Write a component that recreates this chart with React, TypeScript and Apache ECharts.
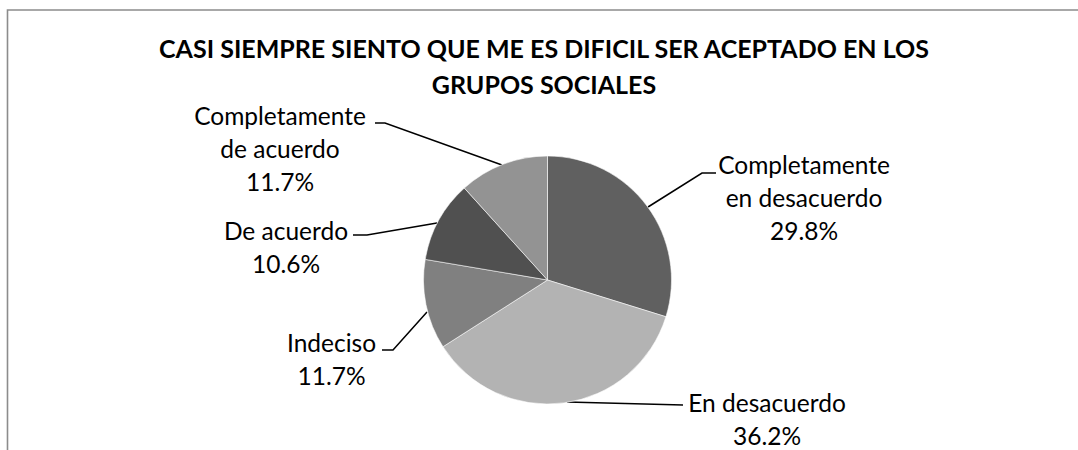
import React, { useEffect, useRef } from "react";
import * as echarts from "echarts";

const titleLines = ["CASI SIEMPRE SIENTO QUE ME ES DIFICIL SER ACEPTADO EN LOS", "GRUPOS SOCIALES"];
const categories = [
  "Completamente en desacuerdo",
  "En desacuerdo",
  "Indeciso",
  "De acuerdo",
  "Completamente de acuerdo",
];
const counts = [28, 34, 11, 10, 11];
const sliceColors = ["#606060", "#b3b3b3", "#808080", "#505050", "#939393"];

// label placement (text block centers) and leader line points, per slice
const labelPos: [number, number][] = [
  [804, 197],
  [767, 419],
  [331.5, 358.5],
  [286, 246.5],
  [280, 148.5],
];
const leaderPts: [number, number][][] = [
  [[648, 207], [702, 173], [716, 173]],
  [[567, 402], [683, 405]],
  [[427, 312], [393, 350], [382, 350]],
  [[437, 223], [367, 235], [353, 235]],
  [[502, 165], [385, 123], [375, 123]],
];

const FONT = "Lato, 'Noto Sans', sans-serif";

export default function App() {
  const ref = useRef<HTMLDivElement>(null);
  useEffect(() => {
    document.body.style.margin = "0";
    if (!ref.current) return;
    const chart = echarts.init(ref.current, null, { renderer: "svg" });
    chart.setOption({
      animation: false,
      backgroundColor: "#ffffff",
      title: {
        text: titleLines.join("\n"),
        left: 539,
        top: 25,
        textAlign: "center",
        textStyle: {
          fontFamily: FONT,
          fontSize: 25,
          fontWeight: "bold",
          color: "#000000",
          lineHeight: 36,
        },
      },
      graphic: [
        {
          type: "rect",
          shape: { x: 7.5, y: 10, width: 2000, height: 1000 },
          style: { fill: "none", stroke: "#8c8c8c", lineWidth: 1.6 },
          silent: true,
        },
      ],
      series: [
        {
          type: "pie",
          center: [547.5, 280],
          radius: 124,
          startAngle: 90,
          clockwise: true,
          avoidLabelOverlap: false,
          percentPrecision: 1,
          itemStyle: { borderColor: "rgba(255,255,255,0.7)", borderWidth: 0.8 },
          label: {
            show: true,
            fontFamily: FONT,
            fontSize: 24.5,
            lineHeight: 33,
            color: "#000000",
            align: "center",
            formatter: (p: any) =>
              p.name.replace("Completamente ", "Completamente\n") + "\n" + p.percent.toFixed(1) + "%",
          },
          labelLine: { show: true, lineStyle: { color: "#000000", width: 1.5 } },
          labelLayout: (params: any) => {
            const i = params.dataIndex;
            return {
              x: labelPos[i][0],
              y: labelPos[i][1],
              align: "center",
              verticalAlign: "middle",
              labelLinePoints: leaderPts[i],
            };
          },
          data: categories.map((name, i) => ({
            name,
            value: counts[i],
            itemStyle: { color: sliceColors[i] },
          })),
        },
      ],
    });
    return () => chart.dispose();
  }, []);
  return <div ref={ref} style={{ width: 1078, height: 450 }} />;
}
